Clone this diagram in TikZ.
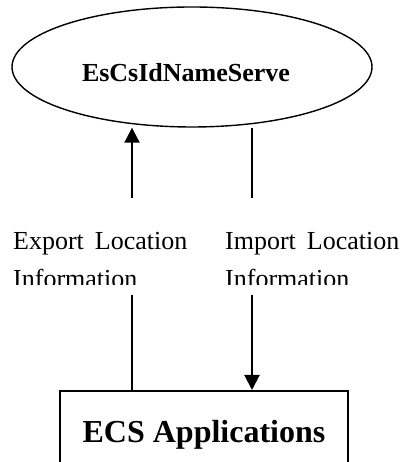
\documentclass[tikz,border=0pt]{standalone}
\usepackage{fontspec}
\setmainfont{Liberation Serif}
\usetikzlibrary{arrows.meta,shapes.geometric}
\tikzset{
  server/.style={ellipse,draw,line width=1.4pt,minimum width=360pt,minimum height=120pt,inner sep=0pt,font=\fontsize{26}{30}\selectfont\bfseries},
  appbox/.style={rectangle,draw,line width=2pt,minimum width=288pt,minimum height=82pt,inner sep=0pt,font=\fontsize{32}{38}\selectfont\bfseries},
  link/.style={line width=2pt},
  flow/.style={line width=2pt,-{Triangle[length=15pt,width=15pt]}},
  infolabel/.style={anchor=north west,align=left,inner sep=0pt,font=\fontsize{26}{38}\selectfont}
}

\begin{document}
\begin{tikzpicture}[x=1pt,y=1pt]

    % Define the x positions of the two links and the gap for the labels
    \def\xexp{132}      % Export link
    \def\ximp{252}      % Import link
    \def\ybreakhi{264}  % links stop above the labels
    \def\ybreaklo{167}  % links start again below the labels

    \clip (0,0) rectangle (402,462);

    % -- Name server (ellipse) and the applications box --
    \node[server] (nameserve) at (192,395) {\raisebox{-15pt}[0pt][0pt]{\hspace*{-12pt}EsCsIdNameServe}};
    \node[appbox] (apps) at (204,30) {\raisebox{-10pt}[0pt][0pt]{ECS Applications}};

    % -- Free ends of the links round the labels --
    \coordinate (exphi) at (\xexp,\ybreakhi);
    \coordinate (explo) at (\xexp,\ybreaklo);
    \coordinate (imphi) at (\ximp,\ybreakhi);
    \coordinate (implo) at (\ximp,\ybreaklo);

    % -- Export: applications up to the name server --
    \draw[link] (apps.north -| explo) -- (explo);
    \draw[flow] (exphi) -- (nameserve.south -| exphi);

    % -- Import: name server down to the applications --
    \draw[link] (nameserve.south -| imphi) -- (imphi);
    \draw[flow] (implo) -- (apps.north -| implo);

    % -- Labels in the gap (second line is cut off) --
    \begin{scope}
      \clip (0,177) rectangle (402,300);
      \node[infolabel] (explabel) at (13,230) {Export\hspace{11pt}Location\\Information};
      \node[infolabel] (implabel) at (225,230) {Import\hspace{11pt}Location\\Information};
    \end{scope}

\end{tikzpicture}
\end{document}
